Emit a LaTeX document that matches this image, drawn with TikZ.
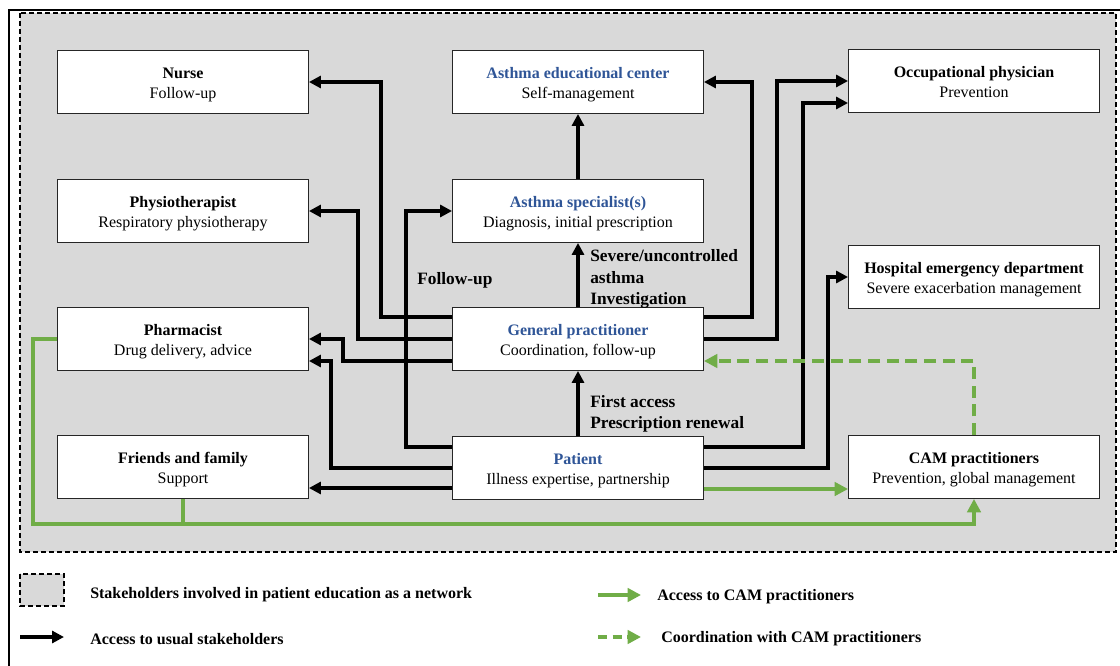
\documentclass[tikz,border=0pt]{standalone}
\usepackage{fontspec}
\setmainfont{Liberation Serif}
\usetikzlibrary{arrows.meta, calc}

\definecolor{netgray}{HTML}{D9D9D9}
\definecolor{camgreen}{HTML}{70AD47}
\definecolor{titleblue}{HTML}{2F5597}

\begin{document}
\begin{tikzpicture}[x=0.75pt, y=-0.75pt,
    sbox/.style={draw=black!85, line width=0.9pt, fill=white, minimum width=188pt,
        minimum height=47pt, align=center, font=\fontsize{12}{15}\selectfont},
    acc/.style={line width=3pt, -{Triangle[length=9pt, width=9pt]}},
    camline/.style={draw=camgreen, line width=2.4pt, -{Triangle[length=10pt, width=10pt, fill=camgreen]}},
    camdash/.style={camline, dash pattern=on 9pt off 5pt},
    lab/.style={font=\fontsize{13}{16}\selectfont\bfseries, align=left, anchor=west, inner sep=0pt},
    legtext/.style={font=\fontsize{12}{15}\selectfont\bfseries, anchor=west, inner sep=0pt}]

\useasboundingbox (0,0) rectangle (1120,666);

% Column centres (pixels)
\def\xL{183}
\def\xM{578}
\def\xR{974}

% Macro for a stakeholder box
% Usage: \stk{name}{x}{y}{title colour}{title}{role}
\newcommand{\stk}[6]{
    \node[sbox] (#1) at (#2,#3)
        {\rule{0pt}{12.5pt}\textcolor{#4}{\textbf{#5}}\\#6\rule[-3pt]{0pt}{3pt}};
}

% --- Frame and network area ---
\draw[line width=0.8pt] (9,666) -- (9,10) -- (1120,10);
\draw[line width=0.8pt, dash pattern=on 3.5pt off 2.5pt, fill=netgray] (20,13) rectangle (1116,552);

% --- Left column ---
\stk{nurse}{\xL}{82}{black}{Nurse}{Follow-up}
\stk{physio}{\xL}{211}{black}{Physiotherapist}{Respiratory physiotherapy}
\stk{pharm}{\xL}{339}{black}{Pharmacist}{Drug delivery, advice}
\stk{friends}{\xL}{467}{black}{Friends and family}{Support}

% --- Middle column ---
\stk{edu}{\xM}{82}{titleblue}{Asthma educational center}{Self-management}
\stk{spec}{\xM}{211}{titleblue}{Asthma specialist(s)}{Diagnosis, initial prescription}
\stk{gp}{\xM}{339}{titleblue}{General practitioner}{Coordination, follow-up}
\stk{patient}{\xM}{468}{titleblue}{Patient}{Illness expertise, partnership}

% --- Right column ---
\stk{occ}{\xR}{81}{black}{Occupational physician}{Prevention}
\stk{hosp}{\xR}{277}{black}{Hospital emergency department}{Severe exacerbation management}
\stk{cam}{\xR}{467}{black}{CAM practitioners}{Prevention, global management}

% --- Usual stakeholders ---
\draw[acc] (spec) -- (edu);
\draw[acc] (gp) -- (spec);
\draw[acc] (patient) -- (gp);
\node[lab] (severe) at (590,279) {Severe/uncontrolled\\asthma\\Investigation};
\node[lab] (first) at (590,414) {First access\\Prescription renewal};
\node[lab] (follow) at (417,280) {Follow-up};

\draw[acc] ($(gp.west)+(0,-22)$) -| (381,0 |- nurse.east) -- (nurse.east);
\draw[acc] (gp.west) -| (358,0 |- physio.east) -- (physio.east);
\draw[acc] ($(gp.west)+(0,22)$) -| (343,0 |- pharm.east) -- (pharm.east);
\draw[acc] ($(patient.west)+(0,-21)$) -| (406,0 |- spec.west) -- (spec.west);
\draw[acc] (patient.west) -| ($(pharm.east)+(22,22)$) -- ($(pharm.east)+(0,22)$);
\draw[acc] ($(patient.west)+(0,20)$) -- ($(friends.east)+(0,21)$);

\draw[acc] ($(gp.east)+(0,-22)$) -| (752,0 |- edu.east) -- (edu.east);
\draw[acc] (gp.east) -| (777,0 |- occ.west) -- (occ.west);
\draw[acc] ($(patient.east)+(0,-21)$) -| ($(occ.west)+(-45,22)$) -- ($(occ.west)+(0,22)$);
\draw[acc] (patient.east) -| ($(hosp.west)+(-20,0)$) -- (hosp.west);

% --- CAM practitioners ---
\draw[camline] ($(patient.east)+(0,21)$) -- ($(cam.west)+(0,22)$);
\draw[camdash] (cam.north) |- ($(gp.east)+(0,22)$);
\draw[camline] (pharm.west) -| (33,524) -| (cam.south);
\draw[camline, -] (friends.south) -- (friends.south |- 0,524);

% --- Legend ---
\draw[line width=0.8pt, dash pattern=on 3.5pt off 2.5pt, fill=netgray] (20,574) rectangle (64,606);
\node[legtext] (lgnet) at (90,595) {Stakeholders involved in patient education as a network};
\coordinate (lgaccA) at (20,637);
\coordinate (lgaccB) at (64,637);
\draw[acc, line width=3.5pt] (lgaccA) -- (lgaccB);
\node[legtext] (lgacc) at (90,639) {Access to usual stakeholders};
\coordinate (lgcamA) at (598,595);
\coordinate (lgcamB) at (641,595);
\draw[camline, line width=3.5pt] (lgcamA) -- (lgcamB);
\node[legtext] (lgcam) at (657,597) {Access to CAM practitioners};
\coordinate (lgcoA) at (598,637);
\coordinate (lgcoB) at (641,637);
\draw[camline, line width=3.5pt, dash pattern=on 7pt off 4pt] (lgcoA) -- (lgcoB);
\node[legtext] (lgco) at (661,639) {Coordination with CAM practitioners};

\end{tikzpicture}
\end{document}
